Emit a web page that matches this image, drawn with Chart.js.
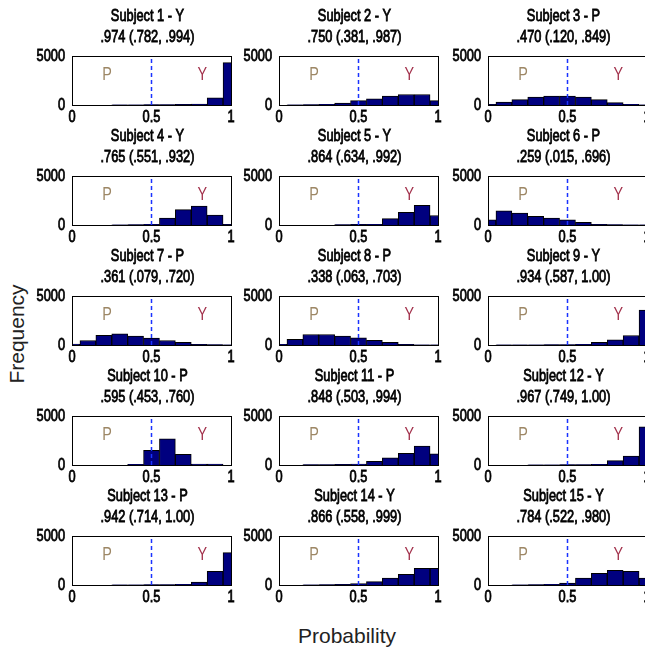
<!DOCTYPE html>
<html>
<head>
<meta charset="utf-8">
<script src="https://cdn.jsdelivr.net/npm/chart.js@4.4.1/dist/chart.umd.min.js"></script>
<style>
  html, body { margin: 0; padding: 0; background: #fff; }
  body { width: 645px; height: 653px; overflow: hidden; position: relative; }
  canvas.panel { position: absolute; }
  .axis-title { position: absolute; font-family: 'Liberation Sans', Arial, sans-serif; font-size: 21px; color: #222; white-space: nowrap; }
  #ytitle { left: 17px; top: 334px; transform: translate(-50%, -50%) rotate(-90deg); }
  #xtitle { left: 347px; top: 636px; transform: translate(-50%, -50%); }
</style>
</head>
<body>
<div class="axis-title" id="ytitle">Frequency</div>
<div class="axis-title" id="xtitle">Probability</div>
<script>
// histogram bin centres (bins of width 0.1)
const binCenters = [0, 0.1, 0.2, 0.3, 0.4, 0.5, 0.6, 0.7, 0.8, 0.9, 1.0];
const xTicks = [0, 0.5, 1];
const yTicks = [0, 5000];
const cutoff = 0.5;

const subjectTitles = [
  'Subject 1 - Y', 'Subject 2 - Y', 'Subject 3 - P',
  'Subject 4 - Y', 'Subject 5 - Y', 'Subject 6 - P',
  'Subject 7 - P', 'Subject 8 - P', 'Subject 9 - Y',
  'Subject 10 - P', 'Subject 11 - P', 'Subject 12 - Y',
  'Subject 13 - P', 'Subject 14 - Y', 'Subject 15 - Y'
];
const subjectStats = [
  '.974 (.782, .994)', '.750 (.381, .987)', '.470 (.120, .849)',
  '.765 (.551, .932)', '.864 (.634, .992)', '.259 (.015, .696)',
  '.361 (.079, .720)', '.338 (.063, .703)', '.934 (.587, 1.00)',
  '.595 (.453, .760)', '.848 (.503, .994)', '.967 (.749, 1.00)',
  '.942 (.714, 1.00)', '.866 (.558, .999)', '.784 (.522, .980)'
];
const counts = [
  [0, 0, 0, 20, 30, 40, 50, 60, 90, 730, 4330],
  [0, 30, 50, 80, 200, 450, 620, 900, 1070, 1070, 450],
  [60, 300, 550, 800, 900, 900, 800, 550, 250, 80, 20],
  [0, 0, 0, 30, 50, 80, 700, 1575, 1925, 1015, 60],
  [0, 0, 0, 0, 40, 60, 80, 650, 1300, 2000, 970],
  [525, 1435, 1225, 875, 700, 525, 280, 60, 40, 30, 10],
  [100, 455, 980, 1150, 910, 700, 455, 280, 60, 40, 10],
  [80, 590, 1070, 1070, 900, 720, 480, 280, 60, 30, 10],
  [0, 30, 30, 30, 40, 50, 80, 280, 520, 970, 3560],
  [0, 0, 0, 0, 80, 1500, 2660, 1085, 100, 100, 0],
  [0, 0, 40, 50, 60, 100, 380, 720, 1200, 1930, 1140],
  [0, 0, 0, 30, 30, 40, 50, 80, 450, 900, 3900],
  [0, 0, 0, 30, 30, 40, 50, 80, 300, 1400, 3300],
  [0, 0, 30, 40, 60, 150, 350, 700, 1100, 1700, 1700],
  [0, 0, 30, 50, 80, 200, 700, 1200, 1500, 1400, 700]
];
const regionLabels = ['P', 'Y'];
const regionLabelX = [0.22, 0.82];
const regionLabelY = 3050;

const FONT = "'Liberation Sans', Arial, sans-serif";
const colLeft = [20, 227, 436];
const rowTop = [0, 120, 240, 360, 480];
const W = 225, H = 130, AXIS_W = 52, AXIS_H = 25;

// narrow-looking text: squeeze a normal face horizontally
function narrowText(ctx, text, x, y, align, bold) {
  ctx.save();
  ctx.translate(x, y);
  ctx.scale(0.8, 1);
  ctx.textAlign = align;
  ctx.fillText(text, 0, 0);
  if (bold) ctx.strokeText(text, 0, 0);
  ctx.restore();
}

const panelText = {
  id: 'panelText',
  afterDatasetsDraw(chart, args, opts) {
    const { ctx, chartArea: a, scales } = chart;
    ctx.save();
    // frame
    ctx.strokeStyle = '#000';
    ctx.lineWidth = 1;
    ctx.strokeRect(Math.round(a.left) + 0.5, Math.round(a.top) + 0.5, Math.round(a.right - a.left), Math.round(a.bottom - a.top));
    ctx.textBaseline = 'middle';

    // region letters
    ctx.font = '18px ' + FONT;
    ['#9d8765', '#a3334d'].forEach((c, i) => {
      ctx.fillStyle = c;
      narrowText(ctx, regionLabels[i], scales.x.getPixelForValue(regionLabelX[i]), scales.y.getPixelForValue(regionLabelY), 'center', false);
    });

    // tick labels and titles
    ctx.fillStyle = '#000';
    ctx.strokeStyle = '#000';
    ctx.lineWidth = 0.8;
    ctx.font = '16px ' + FONT;
    xTicks.forEach(v => narrowText(ctx, String(v), scales.x.getPixelForValue(v), a.bottom + 12.5, 'center', true));
    yTicks.forEach(v => narrowText(ctx, String(v), a.left - 7, scales.y.getPixelForValue(v) + 0.5, 'right', true));
    const cx = (a.left + a.right) / 2 - 4;
    narrowText(ctx, opts.title, cx, 17, 'center', true);
    narrowText(ctx, opts.stats, cx, 38, 'center', true);
    ctx.restore();
  }
};

function makePanel(i) {
  const canvas = document.createElement('canvas');
  canvas.className = 'panel';
  canvas.width = W;
  canvas.height = H;
  canvas.style.left = colLeft[i % 3] + 'px';
  canvas.style.top = rowTop[Math.floor(i / 3)] + 'px';
  document.body.appendChild(canvas);

  return new Chart(canvas, {
    type: 'bar',
    data: {
      datasets: [{
        type: 'line',
        data: [{ x: cutoff, y: yTicks[0] }, { x: cutoff, y: yTicks[1] }],
        borderColor: '#1a33ff',
        borderWidth: 1.5,
        borderDash: [4, 3],
        pointRadius: 0,
        order: 0
      }, {
        data: binCenters.map((x, j) => ({ x, y: counts[i][j] })),
        backgroundColor: '#00007f',
        borderColor: '#000',
        borderWidth: 1,
        barPercentage: 1,
        categoryPercentage: 1,
        order: 1
      }]
    },
    options: {
      responsive: false,
      animation: false,
      layout: { padding: { top: 56, right: 14, bottom: 0, left: 0 } },
      plugins: {
        legend: { display: false },
        tooltip: { enabled: false },
        panelText: { title: subjectTitles[i], stats: subjectStats[i] }
      },
      scales: {
        x: {
          type: 'linear',
          min: 0,
          max: 1,
          offset: false,
          afterBuildTicks: s => { s.ticks = xTicks.map(v => ({ value: v })); },
          afterFit: s => { s.height = AXIS_H; },
          grid: { display: false, drawTicks: false },
          border: { display: false },
          ticks: { display: false }
        },
        y: {
          min: 0,
          max: 5000,
          afterBuildTicks: s => { s.ticks = yTicks.map(v => ({ value: v })); },
          afterFit: s => { s.width = AXIS_W; },
          grid: { display: false, drawTicks: false },
          border: { display: false },
          ticks: { display: false }
        }
      }
    },
    plugins: [panelText]
  });
}

subjectTitles.forEach((t, i) => makePanel(i));
</script>
</body>
</html>
